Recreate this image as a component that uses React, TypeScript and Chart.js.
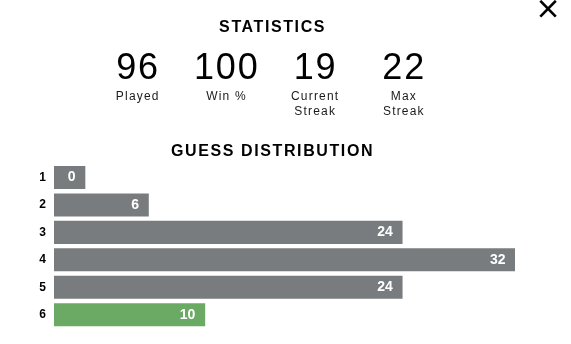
import React, { useEffect, useRef } from "react";
import { Chart, registerables } from "chart.js";

Chart.register(...registerables);

const guessLabels = ["1", "2", "3", "4", "5", "6"];
const guessCounts = [0, 6, 24, 32, 24, 10];
const barColors = ["#787c7e", "#787c7e", "#787c7e", "#787c7e", "#787c7e", "#6aaa64"];
const statValues = ["96", "100", "19", "22"];
const statLabels = [["Played"], ["Win %"], ["Current", "Streak"], ["Max", "Streak"]];
const statCenters = [137.2, 225.9, 314.6, 403.3];
const AXIS_MIN = -0.7;

const FONT = "'Liberation Sans', Arial, Helvetica, sans-serif";

const valueLabelPlugin = {
  id: "valueLabels",
  afterDatasetsDraw(chart: any) {
    const ctx = chart.ctx;
    const meta = chart.getDatasetMeta(0);
    ctx.save();
    ctx.font = `bold 14px ${FONT}`;
    ctx.fillStyle = "#ffffff";
    ctx.textAlign = "right";
    ctx.textBaseline = "middle";
    meta.data.forEach((bar: any, i: number) => {
      ctx.fillText(String(guessCounts[i]), bar.x - 9.5, bar.y);
    });
    ctx.restore();
  },
};

export default function App() {
  const canvasRef = useRef<HTMLCanvasElement | null>(null);

  useEffect(() => {
    if (!canvasRef.current) return;
    const chart = new Chart(canvasRef.current, {
      type: "bar",
      data: {
        labels: guessLabels,
        datasets: [
          {
            data: guessCounts,
            backgroundColor: barColors,
            base: AXIS_MIN,
            minBarLength: 31,
            barThickness: 22.4,
            borderWidth: 0,
          } as any,
        ],
      },
      options: {
        indexAxis: "y",
        responsive: true,
        maintainAspectRatio: false,
        animation: false,
        layout: { padding: { left: 0, right: 56, top: 163.8, bottom: 15.6 } },
        plugins: {
          legend: { display: false },
          tooltip: { enabled: false },
          title: { display: false },
        },
        scales: {
          x: {
            type: "linear",
            min: AXIS_MIN,
            max: Math.max(...guessCounts),
            display: false,
          },
          y: {
            type: "category",
            grid: { display: false, drawTicks: false },
            border: { display: false },
            ticks: {
              padding: 8,
              color: "#000000",
              font: { family: FONT, size: 12, weight: "bold" },
            },
            afterFit: (scale: any) => {
              scale.width = 54;
            },
          },
        },
      } as any,
      plugins: [valueLabelPlugin],
    });
    return () => chart.destroy();
  }, []);

  const titleStyle: React.CSSProperties = {
    position: "absolute",
    left: 0,
    width: 542,
    textAlign: "center",
    fontFamily: FONT,
    fontWeight: "bold",
    fontSize: 16,
    lineHeight: "16px",
    letterSpacing: "1.6px",
    paddingLeft: 1.6,
    color: "#000",
    whiteSpace: "nowrap",
  };

  return (
    <div
      style={{
        position: "absolute",
        left: 0,
        top: 0,
        width: 571,
        height: 344,
        background: "#ffffff",
        overflow: "hidden",
      }}
    >
      <div style={{ position: "absolute", left: 0, top: 0, width: 571, height: 344 }}>
        <canvas ref={canvasRef} />
      </div>
      <div style={{ ...titleStyle, top: 18.8 }}>STATISTICS</div>
      {statValues.map((v, i) => (
        <div
          key={"v" + i}
          style={{
            position: "absolute",
            left: statCenters[i] - 50,
            width: 100,
            top: 49,
            textAlign: "center",
            fontFamily: FONT,
            fontSize: 36,
            lineHeight: "36px",
            letterSpacing: "1.8px",
            paddingLeft: 1.8,
            boxSizing: "border-box",
            color: "#000",
          }}
        >
          {v}
        </div>
      ))}
      {statLabels.map((lines, i) => (
        <div
          key={"l" + i}
          style={{
            position: "absolute",
            left: statCenters[i] - 50,
            width: 100,
            top: 88.7,
            textAlign: "center",
            fontFamily: FONT,
            fontSize: 12,
            lineHeight: "15.6px",
            letterSpacing: "1.2px",
            paddingLeft: 1.2,
            boxSizing: "border-box",
            color: "#1a1a1b",
          }}
        >
          {lines.map((t, j) => (
            <div key={j}>{t}</div>
          ))}
        </div>
      ))}
      <div style={{ ...titleStyle, top: 142.8 }}>GUESS DISTRIBUTION</div>
      <svg
        style={{ position: "absolute", left: 536, top: -2 }}
        width={24}
        height={24}
        viewBox="0 0 24 24"
      >
        <line x1={4.3} y1={2.8} x2={19.8} y2={18.6} stroke="#000" strokeWidth={2.6} />
        <line x1={19.8} y1={2.8} x2={4.3} y2={18.6} stroke="#000" strokeWidth={2.6} />
      </svg>
    </div>
  );
}
